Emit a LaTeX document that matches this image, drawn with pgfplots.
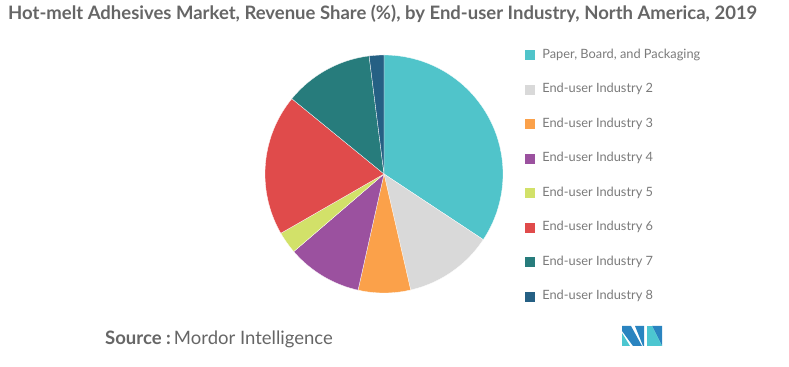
\documentclass[border=0pt]{standalone}
\usepackage{pgfplots}
\pgfplotsset{compat=1.18}
\usepackage{pgfplotstable}
\usepackage{fontspec}
\setmainfont{Lato}
\definecolor{slice0}{HTML}{50C4CA}
\definecolor{slice1}{HTML}{D9D9D9}
\definecolor{slice2}{HTML}{FBA14A}
\definecolor{slice3}{HTML}{9B519F}
\definecolor{slice4}{HTML}{D2E169}
\definecolor{slice5}{HTML}{E04B4B}
\definecolor{slice6}{HTML}{277C7C}
\definecolor{slice7}{HTML}{256084}
\definecolor{titlegray}{HTML}{666666}
\definecolor{leggray}{HTML}{7A7A7A}
\definecolor{logoblue}{HTML}{2A84C0}
\definecolor{logoteal}{HTML}{4CC6D0}
\pgfplotstableread{
idx value
0 34.3
1 12.1
2 7.1
3 10.2
4 3.0
5 19.2
6 12.1
7 2.0
}\sharetable
\begin{document}
\begin{tikzpicture}
\begin{axis}[
  width=789bp, height=367bp, scale only axis,
  xmin=0, xmax=789, ymin=0, ymax=367,
  hide axis, clip=false,
  legend style={at={(axis cs:525,318)}, anchor=north west, draw=none, fill=none,
    inner sep=0pt, row sep=22.7bp, font=\fontsize{12.8bp}{14bp}\selectfont\color{leggray},
    nodes={inner sep=0pt, text height=9bp, text depth=2.8bp, anchor=west},
    /tikz/every even column/.append style={column sep=0bp}},
  legend cell align=left,
  legend image code/.code={\fill[#1,draw=none] (0bp,-5bp) rectangle (10bp,5bp); \path (17bp,0bp);},
  legend entries={{Paper, Board, and Packaging},End-user Industry 2,End-user Industry 3,End-user Industry 4,End-user Industry 5,End-user Industry 6,End-user Industry 7,End-user Industry 8},
]
\path (axis cs:0,0) rectangle (axis cs:789,367);
\gdef\cum{0}
\pgfplotsforeachungrouped \i in {0,...,7}{%
  \pgfplotstablegetelem{\i}{value}\of\sharetable
  \let\v=\pgfplotsretval
  \pgfmathsetmacro\a{\cum*3.6}%
  \pgfmathsetmacro\b{(\cum+\v)*3.6}%
  \pgfmathsetmacro\newcum{\cum+\v}%
  \xdef\cum{\newcum}%
  \edef\cmd{\noexpand\addplot[fill=slice\i, draw=white, line width=0.3pt, domain=\a:\b, samples=80, variable=\noexpand\t]
    ({384+119*sin(\noexpand\t)},{193+119*cos(\noexpand\t)}) -- (axis cs:384,193) -- cycle;}%
  \cmd
}
\node[anchor=west, text=titlegray, font=\fontsize{18.5bp}{21bp}\selectfont\bfseries, inner sep=0pt] at (axis cs:8,353) {Hot-melt Adhesives Market, Revenue Share (\%), by End-user Industry, North America, 2019};
\node[anchor=west, text=titlegray, font=\fontsize{18.5bp}{21bp}\selectfont, inner sep=0pt] at (axis cs:105,28) {\textbf{Source :}\,Mordor Intelligence};
% logo
\fill[logoblue] (axis cs:622,41) -- (axis cs:631,41) -- (axis cs:642,21) -- (axis cs:633,21) -- (axis cs:622,36) -- cycle;
\fill[logoteal] (axis cs:622,34) -- (axis cs:622,21) -- (axis cs:630,21) -- cycle;
\fill[logoblue] (axis cs:635,41) -- (axis cs:644,41) -- (axis cs:644,21) -- (axis cs:643,21) -- cycle;
\fill[logoteal] (axis cs:647,41) -- (axis cs:652,41) -- (axis cs:652,21) -- (axis cs:647,21) -- cycle;
\fill[logoblue] (axis cs:652,41) -- (axis cs:662,21) -- (axis cs:662,41) -- cycle;
\fill[logoteal] (axis cs:652,41) -- (axis cs:652,21) -- (axis cs:662,21) -- cycle;
\end{axis}
\end{tikzpicture}
\end{document}
